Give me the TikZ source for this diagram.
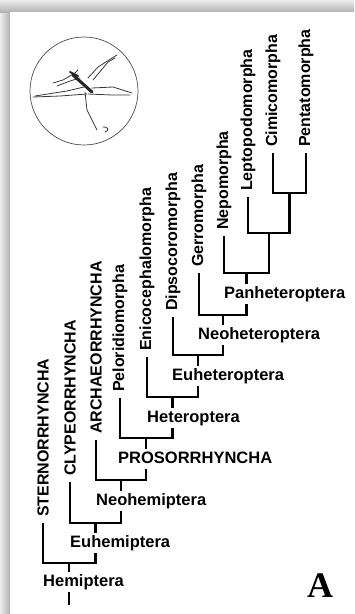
\documentclass[tikz,border=0pt]{standalone}
\usepackage{fontspec}
\setmainfont{Liberation Sans}
\newfontfamily\tagfont{Liberation Serif}

\begin{document}
\begin{tikzpicture}[
    x=1pt, y=-1pt,
    leaf/.style={rotate=90, anchor=west, inner sep=0pt, font=\fontsize{16}{18}\selectfont\bfseries},
    clade/.style={anchor=west, fill=white, inner xsep=0pt, inner ysep=2.5pt, text height=12pt, text depth=3.5pt, font=\fontsize{16.5}{18}\selectfont\bfseries},
    branch/.style={line width=2.2pt},
    bug/.style={gray!45!black, line width=0.8pt, line cap=round, line join=round}
]
    \useasboundingbox (0,0) rectangle (354,614);

    % Frame with shadow
    \shade[left color=gray!15, right color=gray!60] (0,0) rectangle (10,614);
    \shade[top color=gray!15, bottom color=gray!60] (0,0) rectangle (354,12);
    \fill[white] (10,12) rectangle (354,614);

    % Bug in a circle
    \draw[gray!60!black, line width=0.7pt] (84,91) circle[radius=54];
    \draw[bug] (84,87) -- (67,91) -- (35,96);
    \draw[bug] (87,94) -- (60,96) -- (33,97);
    \draw[bug] (92,88) -- (113,87) -- (132,93);
    \draw[bug] (88,94) -- (112,95) -- (130,95);
    \draw[bug] (88,78) -- (98,67) -- (117,55);
    \draw[bug] (93,80) -- (108,62) -- (115,58);
    \draw[bug] (85,92) -- (87,110) -- (97,130);
    \draw[bug] (103,127) .. controls (108,126) and (110,131) .. (105,132);
    \draw[bug] (53,83) -- (63,80) -- (75,73) -- (78,70);
    \draw[bug] (57,86) -- (70,81) -- (80,78);
    \draw[black!85, line width=3pt, line cap=round] (73,75) -- (92,92);
    \draw[black!85, line width=2pt, line cap=round] (70,72) -- (78,76);

    % Leaves
    \node[leaf] (stern) at (43,517) {STERNORRHYNCHA};
    \node[leaf] (clyp) at (70,476) {CLYPEORRHYNCHA};
    \node[leaf] (archae) at (96,434) {ARCHAEORRHYNCHA};
    \node[leaf] (pelor) at (120,392) {Peloridiomorpha};
    \node[leaf] (enico) at (147,351) {Enicocephalomorpha};
    \node[leaf] (dipso) at (173,311) {Dipsocoromorpha};
    \node[leaf] (gerro) at (199,267) {Gerromorpha};
    \node[leaf] (nepo) at (224,230) {Nepomorpha};
    \node[leaf] (lepto) at (248,191) {Leptopodomorpha};
    \node[leaf] (cimi) at (273,147) {Cimicomorpha};
    \node[leaf] (penta) at (306,147) {Pentatomorpha};

    % Joints
    \coordinate (cimpen) at (289.5,193);
    \coordinate (lepcim) at (268.8,233);
    \coordinate (panhet) at (246.4,273);
    \coordinate (neohet) at (222.7,315);
    \coordinate (euhet) at (197.8,355);
    \coordinate (het) at (172.4,397);
    \coordinate (pros) at (146.2,438);
    \coordinate (neoh) at (121.1,480);
    \coordinate (euh) at (95.5,523);
    \coordinate (hem) at (69.3,563);
    \coordinate (root) at (69.3,605);

    % Branches
    \draw[branch] ([yshift=-6pt]cimi.west) |- (cimpen) -| ([yshift=-6pt]penta.west);
    \draw[branch] ([yshift=-6pt]lepto.west) |- (lepcim) -| (cimpen);
    \draw[branch] ([yshift=-6pt]nepo.west) |- (panhet) -| (lepcim);
    \draw[branch] ([yshift=-6pt]gerro.west) |- (neohet) -| (panhet);
    \draw[branch] ([yshift=-6pt]dipso.west) |- (euhet) -| (neohet);
    \draw[branch] ([yshift=-6pt]enico.west) |- (het) -| (euhet);
    \draw[branch] ([yshift=-6pt]pelor.west) |- (pros) -| (het);
    \draw[branch] ([yshift=-6pt]archae.west) |- (neoh) -| (pros);
    \draw[branch] ([yshift=-6pt]clyp.west) |- (euh) -| (neoh);
    \draw[branch] ([yshift=-6pt]stern.west) |- (hem) -| (euh);
    \draw[branch] (hem) -- (root);

    % Clade names
    \node[clade] (panhetL) at (224,294) {Panheteroptera};
    \node[clade] (neohetL) at (198,335) {Neoheteroptera};
    \node[clade] (euhetL) at (172,376) {Euheteroptera};
    \node[clade] (hetL) at (147,418) {Heteroptera};
    \node[clade] (prosL) at (118,459) {PROSORRHYNCHA};
    \node[clade] (neohL) at (96,501) {Neohemiptera};
    \node[clade] (euhL) at (70,543) {Euhemiptera};
    \node[clade] (hemL) at (43,582) {Hemiptera};

    % Panel letter
    \node[font=\fontsize{36}{36}\tagfont\bfseries] (tag) at (320,586) {A};
\end{tikzpicture}
\end{document}
